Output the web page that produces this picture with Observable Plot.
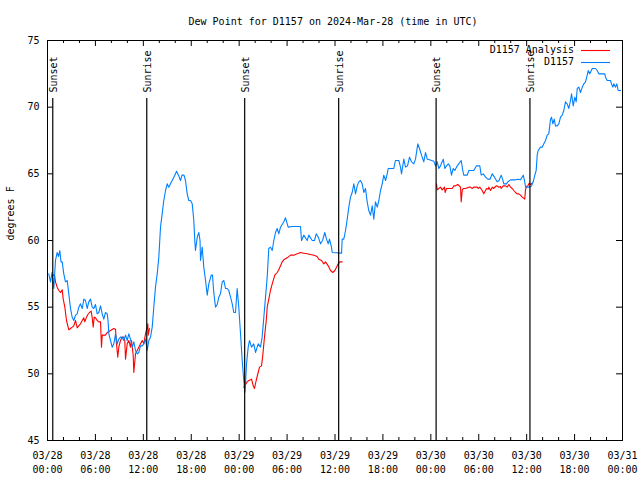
<!DOCTYPE html>
<html>
<head>
<meta charset="utf-8">
<script src="https://cdn.jsdelivr.net/npm/d3@7"></script>
<script src="https://cdn.jsdelivr.net/npm/@observablehq/plot@0.6"></script>
<style>
  body { margin: 0; background: #fff; }
  #chart svg { display: block; }
</style>
</head>
<body>
<div id="chart"></div>
<script>
// ---- Data (hours after 2024-03-28 00:00 UTC, dew point in °F) ----
const stationName = "D1157";
const analysisName = "D1157 Analysis";
const titleText = "Dew Point for D1157 on 2024-Mar-28 (time in UTC)";
const yLabelText = "degrees F";

const stationSeries = [
  [0.16,57.5],[0.38,56.9],[0.56,57.6],[0.79,56.4],[1.0,58.5],[1.21,59.1],[1.38,58.8],[1.54,59.25],
  [1.69,58.4],[1.84,58.4],[2.04,57.5],[2.25,56.9],[2.47,57.0],[2.67,56.0],[2.88,54.9],[3.09,54.25],
  [3.29,54.0],[3.51,54.4],[3.72,54.5],[3.92,55.0],[4.13,55.25],[4.35,54.9],[4.55,55.6],[4.76,55.5],
  [4.97,54.9],[5.17,55.4],[5.38,55.6],[5.6,55.0],[5.8,54.9],[6.01,55.2],[6.22,54.5],[6.42,54.6],
  [6.64,55.1],[6.85,54.5],[7.05,54.1],[7.26,54.6],[7.48,54.5],[7.58,54.0],[7.68,53.0],[7.89,52.5],
  [8.1,52.0],[8.3,52.25],[8.52,53.0],[8.73,52.25],[8.93,52.6],[9.14,52.75],[9.35,52.75],[9.55,52.5],
  [9.77,52.9],[9.98,52.5],[10.18,53.0],[10.39,52.6],[10.61,52.0],[10.81,52.4],[11.02,51.75],[11.23,51.5],
  [11.43,51.6],[11.65,52.1],[11.86,52.1],[12.06,52.25],[12.27,52.6],[12.48,51.75],[12.69,52.5],[12.9,52.75],
  [13.11,53.5],[13.31,55.0],[13.52,56.5],[13.74,57.5],[13.94,58.75],[14.15,61.0],[14.36,62.0],[14.56,63.0],
  [14.78,63.75],[14.99,64.25],[15.19,64.0],[15.4,64.25],[15.61,64.5],[15.82,64.75],[16.03,65.0],[16.15,65.2],
  [16.4,64.9],[16.65,64.5],[16.84,64.9],[17.09,64.9],[17.28,64.5],[17.49,63.5],[17.69,63.0],[17.91,63.0],
  [18.12,62.75],[18.32,61.5],[18.45,59.9],[18.53,59.25],[18.75,60.25],[18.95,60.6],[19.1,60.0],[19.16,58.5],
  [19.37,59.5],[19.57,58.0],[19.79,57.0],[20.0,55.9],[20.2,56.75],[20.5,57.4],[20.66,57.4],[20.82,56.1],
  [21.04,55.0],[21.25,55.2],[21.45,55.75],[21.66,56.0],[21.88,56.9],[22.08,57.0],[22.29,56.4],[22.5,56.4],
  [22.7,56.25],[22.92,55.75],[23.13,55.25],[23.33,54.6],[23.54,54.6],[23.75,56.4],[23.95,55.0],[24.17,53.0],
  [24.38,51.0],[24.58,49.5],[24.71,48.6],[24.79,49.2],[24.92,50.75],[25.13,52.0],[25.29,52.5],[25.55,52.0],
  [25.83,52.25],[26.05,51.6],[26.38,52.25],[26.67,52.0],[26.88,52.75],[27.09,54.25],[27.3,55.75],[27.51,57.25],
  [27.71,59.4],[27.92,59.5],[28.14,59.25],[28.34,60.0],[28.55,60.6],[28.76,60.9],[28.96,60.5],[29.18,61.0],
  [29.59,61.4],[29.8,61.7],[30.14,61.0],[30.64,61.05],[31.68,61.05],[31.81,60.0],[32.09,60.4],[32.52,60.0],
  [32.72,60.4],[33.15,60.0],[33.43,60.0],[33.65,60.5],[33.94,60.2],[34.19,59.75],[34.44,60.0],[34.72,60.6],
  [34.94,60.1],[35.15,59.75],[35.31,60.1],[35.56,59.5],[35.65,59.1],[36.82,59.05],[36.9,60.1],[37.1,60.1],
  [37.32,60.75],[37.53,61.6],[37.73,62.5],[37.94,63.25],[38.15,63.6],[38.36,64.25],[38.57,63.5],[38.78,64.1],
  [38.98,64.4],[39.19,64.5],[39.4,64.25],[39.61,63.6],[39.82,63.9],[40.03,62.9],[40.23,62.25],[40.45,61.9],
  [40.66,62.6],[40.86,61.6],[41.07,62.9],[41.29,62.5],[41.49,63.0],[41.7,63.75],[41.91,64.25],[42.11,64.9],
  [42.33,64.5],[42.54,65.0],[42.66,65.4],[43.36,65.4],[43.57,66.0],[43.99,66.0],[44.2,65.5],[44.33,65.0],
  [44.62,66.1],[44.83,65.5],[45.08,65.6],[45.33,66.25],[45.58,65.9],[45.87,65.75],[46.08,66.1],[46.37,67.25],
  [46.58,66.9],[46.83,66.4],[47.12,65.9],[47.33,66.6],[47.55,66.1],[47.83,66.05],[48.37,65.95],[48.59,65.6],
  [48.8,65.9],[49.0,65.4],[49.21,65.6],[49.42,65.9],[49.55,66.1],[49.75,65.4],[49.96,65.6],[50.18,65.75],
  [50.38,65.6],[50.59,64.9],[50.8,65.4],[51.0,65.25],[51.21,65.5],[51.5,65.75],[51.8,66.0],[52.0,65.25],
  [52.13,64.9],[52.56,64.9],[52.76,65.25],[53.38,65.25],[53.72,65.6],[54.13,65.6],[54.31,64.9],[54.56,65.0],
  [54.85,64.75],[55.13,64.6],[55.41,64.6],[55.69,65.0],[55.97,64.75],[56.31,64.4],[56.54,64.5],[56.81,64.9],
  [56.98,64.6],[57.14,64.25],[57.48,64.25],[57.64,64.4],[57.98,64.55],[58.6,64.55],[58.92,64.6],[59.23,64.55],
  [59.57,64.9],[59.73,64.5],[59.86,64.0],[60.39,64.0],[60.61,64.1],[60.82,64.4],[61.02,64.9],[61.19,65.25],
  [61.32,66.4],[61.44,66.75],[61.73,67.0],[61.94,67.0],[62.15,67.25],[62.36,67.5],[62.57,67.9],[62.77,68.0],
  [62.99,69.1],[63.11,69.25],[63.28,68.75],[63.45,69.1],[63.61,68.6],[63.82,68.6],[64.03,68.75],[64.24,69.25],
  [64.45,69.4],[64.65,69.75],[64.86,70.4],[65.07,70.25],[65.28,69.9],[65.49,70.5],[65.62,71.0],[65.83,70.1],
  [66.03,70.75],[66.2,70.4],[66.33,71.4],[66.53,71.5],[66.74,71.1],[66.96,71.5],[67.16,71.75],[67.37,71.9],
  [67.58,72.4],[67.71,72.75],[67.91,72.5],[68.21,72.9],[68.62,72.9],[68.83,72.75],[69.03,72.5],[69.78,72.5],
  [69.87,72.25],[70.08,72.0],[70.5,72.0],[70.62,71.75],[70.79,71.5],[70.91,71.75],[71.13,71.5],[71.29,71.75],
  [71.46,71.25],[71.75,71.25]
];

const analysisNight1 = [
  [0.59,57.4],[0.88,57.4],[1.0,56.9],[1.21,56.5],[1.42,56.25],[1.63,56.1],[1.84,56.3],[1.97,55.6],
  [2.17,55.0],[2.38,54.0],[2.67,53.3],[2.88,53.4],[3.09,53.5],[3.29,53.6],[3.51,54.0],[3.72,53.45],
  [3.92,53.6],[4.13,53.75],[4.35,54.0],[4.55,54.2],[4.67,53.9],[4.85,54.2],[5.05,54.45],[5.26,54.6],
  [5.47,54.7],[5.6,54.2],[5.72,53.5],[5.85,54.25],[6.01,54.2],[6.22,54.0],[6.42,53.9],[6.64,53.9],
  [6.76,52.0],[6.85,52.9],[7.26,52.9],[7.48,53.1],[7.89,53.25],[8.3,53.4],[8.52,53.35],[8.6,52.5],
  [8.8,51.25],[8.93,52.0],[9.14,52.5],[9.35,52.75],[9.55,52.75],[9.68,52.5],[9.77,51.1],[9.98,52.25],
  [10.18,52.5],[10.39,52.0],[10.52,52.5],[10.73,51.4],[10.81,50.1],[11.02,51.5],[11.23,51.75],[11.43,52.0],
  [11.65,52.25],[11.86,52.5],[12.06,52.25],[12.27,53.0],[12.48,53.5],[12.56,53.75],[12.61,52.9],[12.77,53.4]
];
const analysisNight2 = [
  [24.58,49.0],[25.0,49.4],[25.21,49.5],[25.55,49.6],[25.76,49.1],[25.92,48.9],[26.13,49.5],[26.38,50.1],
  [26.55,50.5],[26.8,50.6],[26.96,51.4],[27.09,52.25],[27.21,53.0],[27.39,54.0],[27.51,55.0],[27.71,55.6],
  [27.92,56.25],[28.14,56.75],[28.46,57.4],[28.76,57.6],[28.96,57.8],[29.18,58.1],[29.39,58.4],[29.59,58.55],
  [30.01,58.7],[30.43,58.9],[30.84,58.9],[31.27,59.0],[31.68,59.1],[32.09,59.05],[32.52,59.0],[32.93,58.95],
  [33.35,58.9],[33.77,58.8],[33.97,58.6],[34.31,58.5],[34.6,58.25],[34.81,58.4],[35.15,58.1],[35.44,57.75],
  [35.73,57.6],[35.98,57.75],[36.19,58.0],[36.4,58.25],[36.6,58.4],[36.9,58.4]
];
const analysisNight3 = [
  [48.71,64.25],[48.8,63.8],[49.0,63.9],[49.21,64.0],[49.42,63.8],[49.58,63.9],[49.71,64.0],[49.79,63.6],
  [49.96,63.9],[50.21,63.9],[50.68,63.9],[50.88,64.1],[51.09,64.1],[51.38,64.2],[51.72,64.0],[51.8,62.9],
  [51.93,63.75],[52.05,63.9],[52.34,63.9],[52.76,64.0],[52.97,64.0],[53.18,63.9],[53.38,64.0],[53.81,64.0],
  [53.93,63.9],[54.13,64.0],[54.43,63.75],[54.63,63.5],[54.85,63.75],[54.97,63.9],[55.19,63.85],[55.26,64.0],
  [55.47,63.75],[55.69,64.0],[55.85,63.9],[56.1,64.05],[56.23,64.1],[56.51,64.0],[56.72,64.05],[56.81,63.9],
  [57.06,64.1],[57.35,64.1],[57.56,64.0],[57.76,64.2],[57.98,64.0],[58.19,63.9],[58.39,63.75],[58.6,63.6],
  [58.81,63.5],[59.01,63.5],[59.23,63.4],[59.44,63.25],[59.76,63.1],[59.85,63.8],[59.98,64.05],[60.15,64.1],
  [60.32,64.3],[60.48,64.2],[60.69,64.3]
];

const sunEventHours = [0.66, 12.43, 24.69, 36.46, 48.66, 60.41];
const sunEventLabels = ["Sunset", "Sunrise", "Sunset", "Sunrise", "Sunset", "Sunrise"];

const majorTickHours = [0, 6, 12, 18, 24, 30, 36, 42, 48, 54, 60, 66, 72];
const majorTickLabels = ["03/28\n00:00","03/28\n06:00","03/28\n12:00","03/28\n18:00",
  "03/29\n00:00","03/29\n06:00","03/29\n12:00","03/29\n18:00",
  "03/30\n00:00","03/30\n06:00","03/30\n12:00","03/30\n18:00","03/31\n00:00"];
const minorTickHours = [2, 4, 8, 10, 14, 16, 20, 22, 26, 28, 32, 34, 38, 40, 44, 46, 50, 52, 56, 58, 62, 64, 68, 70];
const yTickValues = [45, 50, 55, 60, 65, 70, 75];

// ---- Build ----
const T0 = Date.UTC(2024, 2, 28);
const toDate = h => new Date(T0 + h * 3600e3);

const W = 640, H = 480, ML = 47, MR = 18, MT = 40, MB = 40;
const FW = W - ML - MR, FH = H - MT - MB;
const BLUE = "#0080ff", RED = "#ff0000";

const station = stationSeries.map(([h, v]) => ({t: toDate(h), v}));
const analysis = [analysisNight1, analysisNight2, analysisNight3]
  .flatMap((seg, i) => seg.map(([h, v]) => ({t: toDate(h), v, seg: i})));
const events = sunEventHours.map((h, i) => ({t: toDate(h), label: sunEventLabels[i]}));
const majors = majorTickHours.map((h, i) => ({t: toDate(h), label: majorTickLabels[i]}));
const minors = minorTickHours.map(toDate);

const plot = Plot.plot({
  width: W, height: H,
  marginLeft: ML, marginRight: MR, marginTop: MT, marginBottom: MB,
  style: {fontFamily: "'DejaVu Sans Mono', monospace", fontSize: "10px", background: "#fff", color: "#000"},
  x: {type: "utc", domain: [toDate(0), toDate(72)], axis: null},
  y: {domain: [45, 75], axis: null},
  marks: [
    Plot.line(analysis, {x: "t", y: "v", z: "seg", stroke: RED, strokeWidth: 1.1}),
    Plot.line(station, {x: "t", y: "v", stroke: BLUE, strokeWidth: 1.1}),
    Plot.ruleX(events, {x: "t", insetTop: 58, stroke: "#000", strokeWidth: 1.2}),
    Plot.text(events, {x: "t", text: "label", frameAnchor: "top", dy: 52, rotate: -90, textAnchor: "start", fill: "#000", dx: -3}),
    // ticks (inward, all four sides)
    Plot.ruleX(majors, {x: "t", insetTop: FH - 6, stroke: "#000"}),
    Plot.ruleX(majors, {x: "t", insetBottom: FH - 6, stroke: "#000"}),
    Plot.ruleX(minors, {x: d => d, insetTop: FH - 3, stroke: "#000"}),
    Plot.ruleX(minors, {x: d => d, insetBottom: FH - 3, stroke: "#000"}),
    Plot.ruleY(yTickValues, {y: d => d, insetRight: FW - 6, stroke: "#000"}),
    Plot.ruleY(yTickValues, {y: d => d, insetLeft: FW - 6, stroke: "#000"}),
    // tick labels
    Plot.text(majors, {x: "t", text: "label", frameAnchor: "bottom", dy: 9, lineAnchor: "top", lineHeight: 1.4, fill: "#000"}),
    Plot.text(yTickValues, {y: d => d, text: d => String(d), frameAnchor: "left", dx: -8, textAnchor: "end", fill: "#000"}),
    // title & y label
    Plot.text([titleText], {text: d => d, frameAnchor: "top", dy: -23, dx: -2, fill: "#000"}),
    Plot.text([yLabelText], {text: d => d, frameAnchor: "left", dx: -37, rotate: -90, fill: "#000"}),
    Plot.frame({stroke: "#000"})
  ]
});

// legend (top right, inside frame)
const svg = d3.select(plot);
const legendItems = [{name: analysisName, color: RED}, {name: stationName, color: BLUE}];
legendItems.forEach((d, i) => {
  const y = MT + 10 + i * 12;
  svg.append("text")
    .attr("x", W - MR - 48).attr("y", y).attr("dy", "0.32em")
    .attr("text-anchor", "end").attr("fill", "#000")
    .attr("font-family", "'DejaVu Sans Mono', monospace").attr("font-size", 10)
    .text(d.name);
  svg.append("line")
    .attr("x1", W - MR - 41).attr("x2", W - MR - 12)
    .attr("y1", y + 0.5).attr("y2", y + 0.5)
    .attr("stroke", d.color).attr("stroke-width", 1.1);
});

document.getElementById("chart").appendChild(plot);
</script>
</body>
</html>
